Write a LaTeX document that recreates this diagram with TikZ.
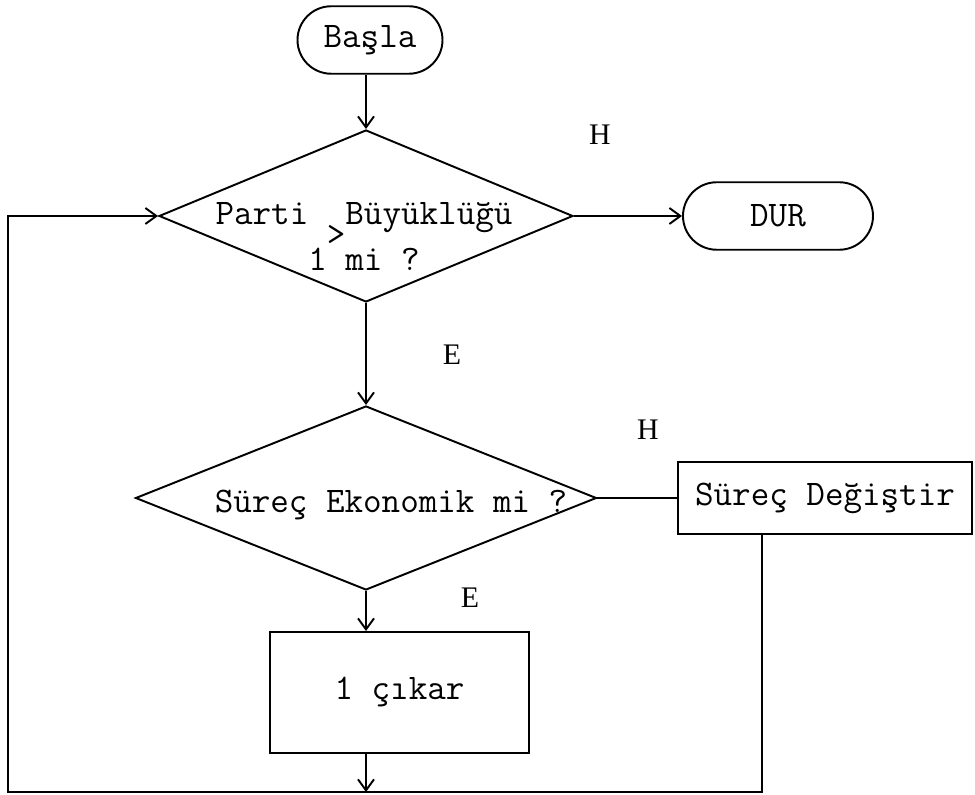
\documentclass[tikz,border=0pt]{standalone}
\usepackage{fontspec}
\setmainfont{Liberation Serif}
\usetikzlibrary{shapes, arrows.meta, positioning, calc}

\begin{document}
\begin{tikzpicture}[
    line width=1.1pt,
    >={Straight Barb[length=2.2mm,width=3.2mm]},
    font=\ttfamily\fontsize{20.5}{26.5}\selectfont,
    terminal/.style={draw, rounded rectangle, minimum width=#1, minimum height=1.35cm, inner sep=0pt},
    karar/.style={draw, diamond, inner sep=0pt},
    islem/.style={draw, rectangle, inner sep=0pt},
    cevap/.style={font=\rmfamily\fontsize{17}{20}\selectfont}
  ]
    \useasboundingbox (0,0) rectangle (19.5,15.9);

    \node[terminal=2.9cm] (basla) at (7.4,15.1) {Başla};
    \node[karar, minimum width=8.28cm, minimum height=3.44cm] (parti) at (7.32,11.58) {};
    \node[align=center] (partitxt) at (7.28,11.17) {Parti\ \ Büyüklüğü\\1\smash{\raisebox{0.5cm}{>}}mi ?};
    \node[terminal=3.8cm] (dur) at (15.56,11.58) {DUR};

    \node[karar, minimum width=9.22cm, minimum height=3.68cm] (surec) at (7.32,5.94) {};
    \node (surectxt) at (7.82,5.8) {Süreç Ekonomik mi ?};
    \node[islem, minimum width=5.88cm, minimum height=1.44cm] (degistir) at (16.5,5.94) {Süreç Değiştir};

    \node[islem, minimum width=5.18cm, minimum height=2.42cm] (cikar) at (7.99,2.05) {1 çıkar};

    \node[cevap] (h1) at (12.0,13.2) {H};
    \node[cevap] (e1) at (9.04,8.8) {E};
    \node[cevap] (h2) at (12.96,7.3) {H};
    \node[cevap] (e2) at (9.4,3.94) {E};

    \coordinate (alt) at (0.16,0.06);
    \coordinate (sag) at (15.24,0.06);

    \draw[->] (basla.south -| parti.north) -- (parti.north);
    \draw[->] (parti.east) -- (dur.west);
    \draw[->] (parti.south) -- (surec.north);
    \draw (surec.east) -- (degistir.west);
    \draw[->] (surec.south) -- (cikar.north -| surec.south);
    \draw[->] (cikar.south -| surec.south) -- (surec.south |- alt);
    \draw[->] (degistir.south -| sag) -- (sag) -- (alt) -- (alt |- parti.west) -- (parti.west);
\end{tikzpicture}
\end{document}
